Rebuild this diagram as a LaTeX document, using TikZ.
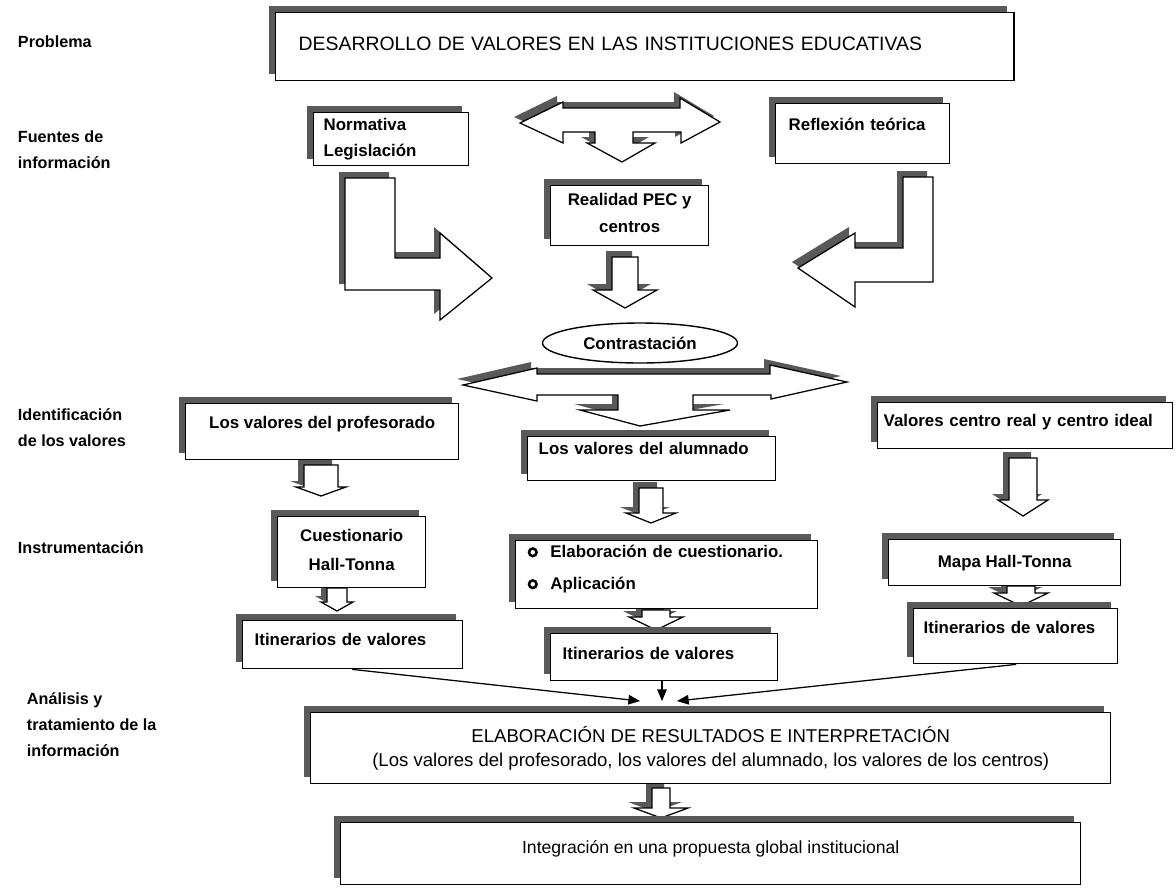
\documentclass[tikz,border=0pt]{standalone}
\usepackage{fontspec}
\setmainfont{Liberation Sans}
\usetikzlibrary{arrows,shapes.geometric,shadows}

\newcommand{\fcaja}{\bfseries\fontsize{12}{19}\selectfont}
\newcommand{\fetiq}{\bfseries\fontsize{11.5}{18.5}\selectfont}
\newcommand{\vineta}{\tikz[baseline=-0.55ex]\draw[line width=1.8pt] (0,0) circle (2.7pt);}
\newcommand{\hondo}[1]{\rule[-#1]{0pt}{#1}}
% flecha de bloque hacia abajo: x, y arriba, y base punta, y punta, semiancho tallo, semiancho punta
\newcommand{\bajada}[6]{%
  \draw[bloque] ({#1-#5},#2) -- ({#1+#5},#2) -- ({#1+#5},#3) -- ({#1+#6},#3) -- (#1,#4)
    -- ({#1-#6},#3) -- ({#1-#5},#3) -- cycle;}

\tikzset{
  caja/.style={draw, fill=white, line width=1pt, anchor=north west, inner sep=0pt,
    general shadow={shadow xshift=-1.8mm, shadow yshift=1.75mm, fill=black!65}},
  bloque/.style={draw, fill=white, line width=0.9pt, line join=miter,
    general shadow={shadow xshift=-1.5mm, shadow yshift=1.5mm, fill=black!65}},
  etiq/.style={anchor=west, align=left, font=\fetiq},
}

\begin{document}
\begin{tikzpicture}[line cap=round,>=triangle 45,x=0.025cm,y=-0.025cm]
\useasboundingbox (0,0) rectangle (1176,890);

% etiquetas de la izquierda
\node[etiq] (l1) at (13,42) {Problema};
\node[etiq] (l2) at (13,150) {Fuentes de\\información};
\node[etiq] (l3) at (13,428) {Identificación\\de los valores};
\node[etiq] (l4) at (13,548) {Instrumentación};
\node[etiq] (l5) at (22,725) {Análisis y\\tratamiento de la\\información};

% flechas de bloque
\draw[bloque] (520,123) -- (563,102) -- (563,108) -- (680,108) -- (680,98) -- (720,122)
  -- (681,143) -- (681,132) -- (633,132) -- (633,143) -- (655,143) -- (622,162)
  -- (587,143) -- (595,143) -- (595,132) -- (563,132) -- (563,143) -- cycle;
\draw[bloque] (345,178) -- (395,178) -- (395,258) -- (440,258) -- (440,233) -- (492,278)
  -- (440,320) -- (440,290) -- (345,290) -- cycle;
\draw[bloque] (933,177) -- (903,177) -- (903,248) -- (855,248) -- (855,233) -- (798,268)
  -- (855,307) -- (855,282) -- (933,282) -- cycle;
\bajada{625}{257}{290}{308}{13}{32}
\draw[bloque] (463,385) -- (537,368) -- (537,374) -- (770,374) -- (770,365) -- (847,382)
  -- (771,399) -- (771,395) -- (693,395) -- (693,410) -- (730,410) -- (640,426)
  -- (580,410) -- (618,410) -- (618,395) -- (537,395) -- (537,401) -- cycle;
\bajada{321}{465}{487}{496}{17}{25}
\bajada{337}{588}{602}{611}{10}{16}
\bajada{651}{488}{513}{523}{12}{25}
\bajada{656}{610}{617}{630}{14}{27}
\bajada{1023}{458}{500}{516}{14}{25}
\bajada{1021}{586}{593}{606}{14}{27}
\bajada{661}{788}{808}{818}{9}{27}

% cajas
\node[caja, minimum width=714*0.025cm, minimum height=68*0.025cm, text width=17.3cm,
  inner xsep=0.575cm, align=left, font=\fontsize{13.8}{16}\selectfont] (problema) at (275,12)
  {DESARROLLO DE VALORES EN LAS INSTITUCIONES EDUCATIVAS\hondo{4pt}};
\node[caja, minimum height=53*0.025cm, text width=3.375cm, inner xsep=0.25cm,
  align=left, font=\fcaja] (normativa) at (313,112) {Normativa\\Legislación};
\node[caja, minimum height=60*0.025cm, text width=3.7cm, inner xsep=0.325cm,
  align=left, font=\fcaja] (reflexion) at (775,103) {Reflexión teórica\hondo{14pt}};
\node[caja, minimum width=158*0.025cm, minimum height=60*0.025cm,
  align=center, font=\fcaja] (realidad) at (550,185) {Realidad PEC y\\centros\hondo{4pt}};
\node[draw, fill=white, line width=1pt, ellipse, minimum width=195*0.025cm,
  minimum height=40*0.025cm, inner sep=0pt, font=\fcaja] (contraste) at (640,343)
  {Contrastación};
\node[caja, minimum width=273*0.025cm, minimum height=56*0.025cm,
  align=center, font=\fcaja] (profesorado) at (185,403)
  {Los valores del profesorado\hondo{13pt}};
\node[caja, minimum height=44*0.025cm, text width=5.65cm, inner xsep=0.275cm,
  align=left, font=\fcaja] (alumnado) at (527,436)
  {Los valores del alumnado\hondo{15pt}};
\node[caja, minimum height=46*0.025cm, text width=7.075cm, inner xsep=0.15cm,
  align=left, font=\fcaja] (centros) at (877,402)
  {Valores centro real y centro ideal\hondo{7pt}};
\node[caja, minimum width=148*0.025cm, minimum height=71*0.025cm,
  align=center, font=\fcaja] (cuestionario) at (277,516)
  {Cuestionario\\[1.5pt]Hall-Tonna\hondo{3pt}};
\node[caja, minimum height=68*0.025cm, text width=6.95cm, inner xsep=0.3cm,
  align=left, font=\bfseries\fontsize{12}{22.7}\selectfont] (aplicacion) at (515,540)
  {\vineta\hspace{9pt}Elaboración de cuestionario.\\\vineta\hspace{9pt}Aplicación\hondo{11pt}};
\node[caja, minimum width=232*0.025cm, minimum height=46*0.025cm,
  align=center, font=\fcaja] (mapa) at (888,539) {Mapa Hall-Tonna\hondo{2pt}};
\node[caja, minimum height=48*0.025cm, text width=4.9cm, inner xsep=0.3cm,
  align=left, font=\fcaja] (itinA) at (242,620) {Itinerarios de valores\hondo{7pt}};
\node[caja, minimum height=47*0.025cm, text width=5.075cm, inner xsep=0.3cm,
  align=left, font=\fcaja] (itinB) at (550,633) {Itinerarios de valores\hondo{6pt}};
\node[caja, minimum height=55*0.025cm, text width=4.6cm, inner xsep=0.25cm,
  align=left, font=\fcaja] (itinC) at (913,608) {Itinerarios de valores\hondo{12pt}};
\node[caja, minimum width=800*0.025cm, minimum height=71*0.025cm, align=center,
  font=\fontsize{13.2}{17}\selectfont] (resultados) at (310,712)
  {ELABORACIÓN DE RESULTADOS E INTERPRETACIÓN\\(Los valores del profesorado, los valores del alumnado, los valores de los centros)};
\node[caja, minimum width=740*0.025cm, minimum height=62*0.025cm, align=center,
  font=\fontsize{12.5}{15}\selectfont] (integracion) at (340,822)
  {Integración en una propuesta global institucional\hondo{9pt}};

% flechas finas hacia los resultados
\coordinate (meet) at (662,701);
\draw[->, line width=0.9pt] (itinA.south) -- ([xshift=-0.55cm]meet);
\draw[->, line width=0.9pt] (itinB.south -| meet) -- (meet);
\draw[->, line width=0.9pt] (itinC.south) -- ([xshift=0.375cm]meet);
\end{tikzpicture}
\end{document}
